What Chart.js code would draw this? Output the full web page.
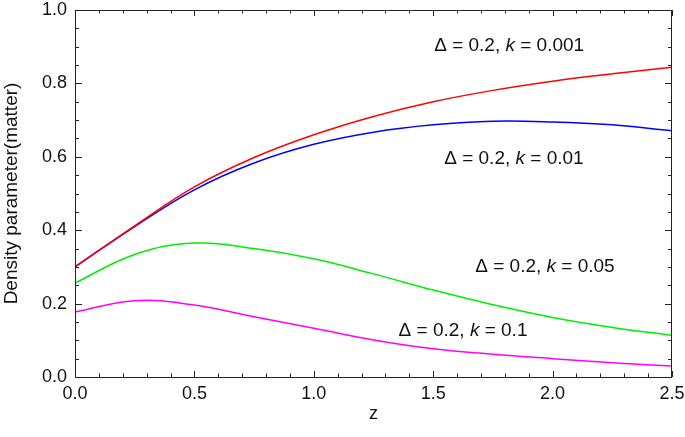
<!DOCTYPE html>
<html>
<head>
<meta charset="utf-8">
<script src="https://cdn.jsdelivr.net/npm/chart.js@4/dist/chart.umd.min.js"></script>
<style>
  html, body { margin: 0; padding: 0; background: #fff; }
  #wrap { width: 685px; height: 437px; }
</style>
</head>
<body>
<div id="wrap"><canvas id="chart"></canvas></div>
<script>
// redshift grid and density parameter curves
const zValues = [0, 0.25, 0.5, 0.75, 1.0, 1.25, 1.5, 1.75, 2.0, 2.25, 2.5];
const omegaK0001 = [0.300, 0.412, 0.518, 0.598, 0.660, 0.710, 0.750, 0.781, 0.806, 0.826, 0.844];
const omegaK001 = [0.300, 0.410, 0.510, 0.583, 0.634, 0.667, 0.687, 0.697, 0.695, 0.687, 0.671];
const omegaK005 = [0.256, 0.334, 0.365, 0.350, 0.322, 0.281, 0.237, 0.197, 0.162, 0.135, 0.114];
const omegaK01 = [0.177, 0.208, 0.196, 0.164, 0.133, 0.101, 0.077, 0.062, 0.050, 0.039, 0.030];

const xTicks = [0, 0.5, 1.0, 1.5, 2.0, 2.5];
const yTicks = [0, 0.2, 0.4, 0.6, 0.8, 1.0];

// curve labels: [delta, k value, anchor z, anchor value]
const labels = [
  ['0.2', '0.001', 1.504, 0.889],
  ['0.2', '0.01', 1.546, 0.580],
  ['0.2', '0.05', 1.676, 0.285],
  ['0.2', '0.1', 1.355, 0.111]
];

const points = arr => zValues.map((z, i) => ({ x: z, y: arr[i] }));
const FONT = '"Liberation Sans", Arial, sans-serif';

const frame = {
  id: 'frame',
  afterDraw(c) {
    const ctx = c.ctx;
    const { left, right, top, bottom } = c.chartArea;
    const xs = c.scales.x, ys = c.scales.y;
    ctx.save();
    ctx.strokeStyle = '#222';
    ctx.lineWidth = 1;
    ctx.strokeRect(left + 0.5, top + 0.5, right - left - 1, bottom - top);
    ctx.beginPath();
    for (let i = 0; i <= 25; i++) {
      const px = Math.round(xs.getPixelForValue(i / 10)) + 0.5;
      const len = i % 5 === 0 ? 6 : 3.5;
      ctx.moveTo(px, bottom); ctx.lineTo(px, bottom - len);
      ctx.moveTo(px, top); ctx.lineTo(px, top + len);
    }
    for (let i = 0; i <= 20; i++) {
      const py = Math.round(ys.getPixelForValue(i / 20)) + 0.5;
      const len = i % 4 === 0 ? 7 : 4;
      ctx.moveTo(left, py); ctx.lineTo(left + len, py);
      ctx.moveTo(right, py); ctx.lineTo(right - len, py);
    }
    ctx.stroke();

    // curve labels
    ctx.fillStyle = '#111';
    ctx.textBaseline = 'alphabetic';
    const up = '19px ' + FONT;
    const it = 'italic 19px ' + FONT;
    labels.forEach(([d, k, zx, yv]) => {
      let x = xs.getPixelForValue(zx);
      const y = ys.getPixelForValue(yv);
      const parts = [['\u0394', up], [' = ', up], [d + ', ', up], ['k', it], [' = ', up], [k, up]];
      parts.forEach(([t, f]) => {
        ctx.font = f;
        ctx.fillText(t, x, y);
        x += ctx.measureText(t).width;
      });
    });
    ctx.restore();
  }
};

const ctx = document.getElementById('chart').getContext('2d');
const line = (data, color) => ({
  data: points(data),
  borderColor: color,
  borderWidth: 1.5,
  pointRadius: 0,
  fill: false,
  tension: 0.4
});

new Chart(ctx, {
  type: 'line',
  data: {
    datasets: [
      line(omegaK0001, '#ff0000'),
      line(omegaK001, '#0000ff'),
      line(omegaK005, '#00ee00'),
      line(omegaK01, '#ff00ff')
    ]
  },
  options: {
    responsive: true,
    maintainAspectRatio: false,
    animation: false,
    layout: { padding: { top: 10, right: 13, left: 0, bottom: 0 } },
    plugins: { legend: { display: false }, tooltip: { enabled: false } },
    scales: {
      x: {
        type: 'linear',
        min: 0, max: 2.5,
        afterBuildTicks: s => { s.ticks = xTicks.map(v => ({ value: v })); },
        afterFit: s => { s.height = 60; s.paddingLeft = 0; s.paddingRight = 0; },
        grid: { display: false, drawTicks: false },
        border: { display: false },
        ticks: {
          padding: 6,
          color: '#111',
          font: { size: 18, family: FONT },
          callback: v => v.toFixed(1)
        },
        title: {
          display: true, text: 'z', color: '#111',
          font: { size: 18, family: FONT },
          padding: { top: 4, bottom: 12 }
        }
      },
      y: {
        min: 0, max: 1,
        afterBuildTicks: s => { s.ticks = yTicks.map(v => ({ value: v })); },
        afterFit: s => { s.width = 75; s.paddingTop = 0; s.paddingBottom = 0; },
        grid: { display: false, drawTicks: false },
        border: { display: false },
        ticks: {
          padding: 8,
          color: '#111',
          font: { size: 18, family: FONT },
          callback: v => v.toFixed(1)
        },
        title: {
          display: true, text: 'Density parameter(matter)', color: '#111',
          font: { size: 19, family: FONT },
          padding: { top: 0, bottom: 0 }
        }
      }
    }
  },
  plugins: [frame]
});
</script>
</body>
</html>
